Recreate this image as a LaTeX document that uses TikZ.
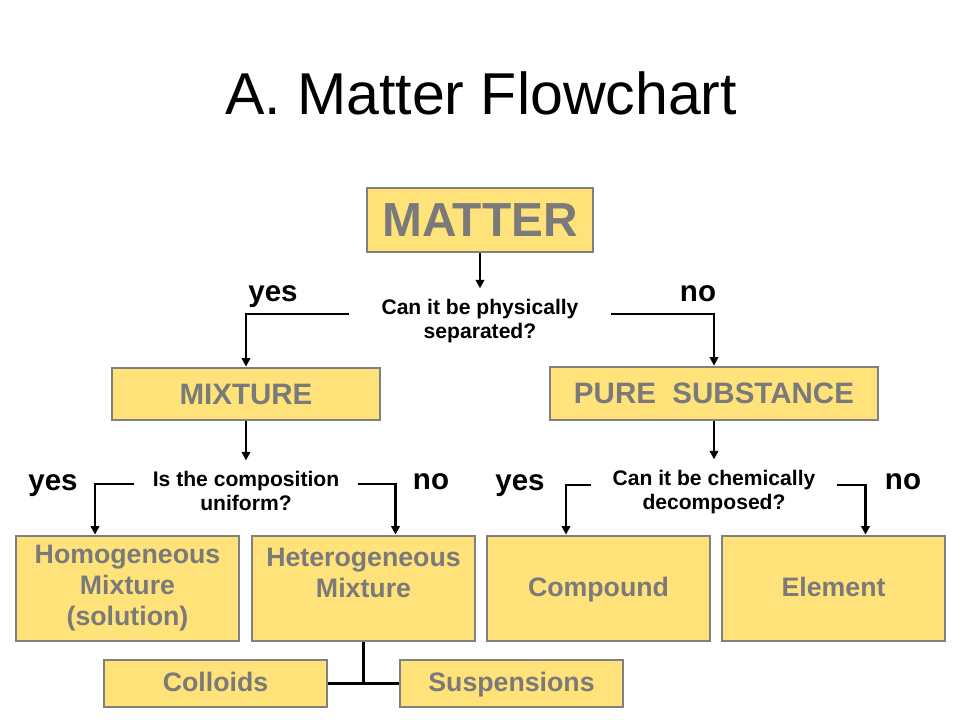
\documentclass[tikz,border=0pt]{standalone}
\usepackage{fontspec}
\setmainfont{Liberation Sans}
\usetikzlibrary{arrows.meta,calc}
\definecolor{boxfill}{RGB}{255,226,122}
\definecolor{boxline}{RGB}{128,128,128}
\definecolor{boxtext}{RGB}{122,122,122}
\tikzset{
	box/.style={draw=boxline, fill=boxfill, line width=2pt, text=boxtext, align=center, inner sep=0pt},
	leaf/.style={box, minimum width=5.575cm, font=\fontsize{19}{22}\selectfont\bfseries},
	oneline/.style={text height=1.25em, text depth=0.15em},
	ask/.style={font=\fontsize{15}{16.5}\selectfont\bfseries, align=center, inner ysep=8pt, outer sep=0pt},
	answer/.style={anchor=base, font=\fontsize{21}{24}\selectfont\bfseries},
	link/.style={line width=2pt},
	arrow/.style={link, -{Triangle[width=6pt,length=6pt]}},
}

\begin{document}
\begin{tikzpicture}[x=0.025cm, y=-0.025cm]
		%%%%% START %%%%%
		\useasboundingbox (0, 0) rectangle (960, 720);
		
		\node[anchor=base, font=\fontsize{42}{48}\selectfont] (title) at (481, 115) {A. Matter Flowchart};
		
		\node[box, minimum width=5.65cm, minimum height=1.6cm, font=\fontsize{34}{38}\selectfont\bfseries] (matter) at (480, 220) {MATTER};
		\node[ask, inner xsep=23pt] (q1) at (480, 321) {Can it be physically\\separated?};
		\draw[arrow] (matter.south) -- (q1.north);
		
		\node[box, minimum width=6.7cm, minimum height=1.3cm, font=\fontsize{21}{24}\selectfont\bfseries] (mixture) at (246, 394) {MIXTURE};
		\node[box, minimum width=8.2cm, minimum height=1.325cm, font=\fontsize{21}{24}\selectfont\bfseries] (pure) at (714, 393.5) {PURE\ \ SUBSTANCE};
		\draw[arrow] ([yshift=5pt]q1.west) -| (mixture.north);
		\draw[arrow] ([yshift=5pt]q1.east) -| (pure.north);
		\node[answer] (yes1) at (273, 302) {yes};
		\node[answer] (no1) at (698, 302) {no};
		
		\node[ask, inner xsep=13.5pt] (q2) at (246, 491) {Is the composition\\uniform?};
		\node[ask, inner xsep=15.6pt] (q3) at (714, 492) {Can it be chemically\\decomposed?};
		\draw[arrow] (mixture.south) -- (q2.north);
		\draw[arrow] (pure.south) -- (q3.north);
		
		\node[leaf, minimum height=2.625cm] (homog) at (127.5, 588.5) {Homogeneous\\Mixture\\(solution)};
		\node[leaf, minimum height=2.625cm] (hetero) at (363.5, 588.5) {Heterogeneous\\Mixture\\\mbox{}};
		\node[leaf, oneline, minimum height=2.625cm] (compound) at (598.5, 588.5) {Compound};
		\node[leaf, oneline, minimum height=2.625cm] (element) at (833.5, 588.5) {Element};
		
		\draw[arrow] ([yshift=5pt]q2.west) -| ($(homog.north)+(-32.5, 0)$);
		\draw[arrow] ([yshift=5pt]q2.east) -| ($(hetero.north)+(32, 0)$);
		\draw[arrow] ([yshift=5pt]q3.west) -| ($(compound.north)+(-32.5, 0)$);
		\draw[arrow] ([yshift=5pt]q3.east) -| ($(element.north)+(32, 0)$);
		\node[answer] (yes2) at (53, 491) {yes};
		\node[answer] (no2) at (431, 490) {no};
		\node[answer] (yes3) at (520, 491) {yes};
		\node[answer] (no3) at (903, 490) {no};
		
		\node[leaf, oneline, minimum height=1.175cm] (colloids) at (215.5, 683.5) {Colloids};
		\node[leaf, oneline, minimum height=1.175cm] (susp) at (511.5, 683.5) {Suspensions};
		\draw[link] (hetero.south) -- (hetero.south |- colloids.east);
		\draw[link] (colloids.east) -- (susp.west);
		
		%%%%% END %%%%%
\end{tikzpicture}
\end{document}
